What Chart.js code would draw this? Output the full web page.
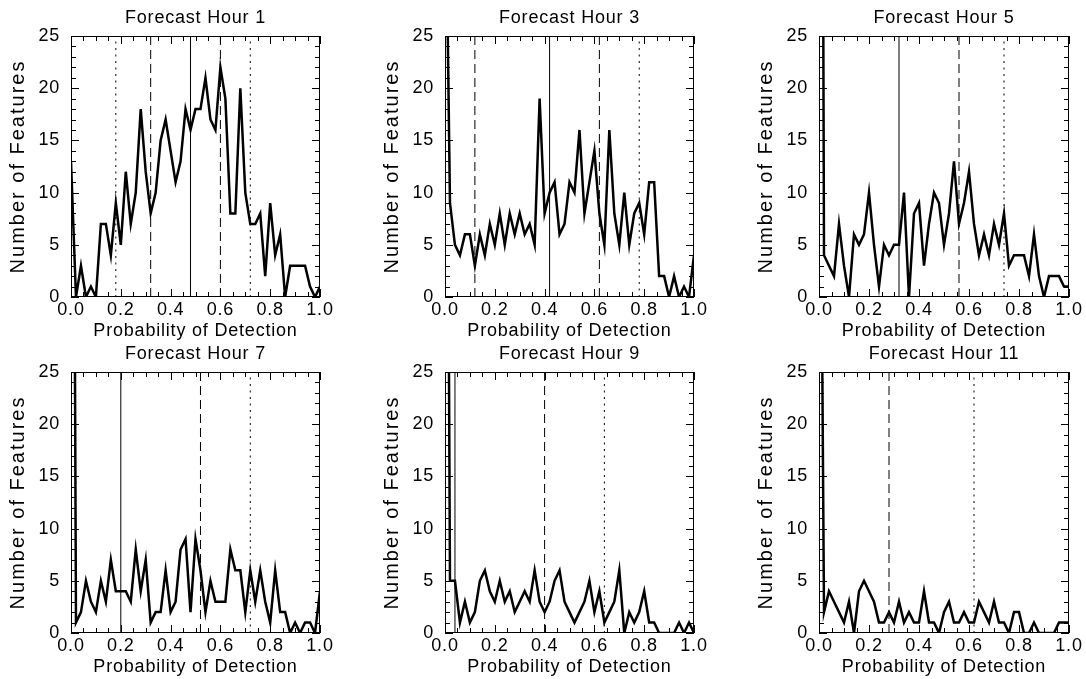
<!DOCTYPE html>
<html>
<head>
<meta charset="utf-8">
<script src="https://cdn.jsdelivr.net/npm/chart.js@4"></script>
<style>
  body { margin: 0; background: #fff; width: 1086px; height: 679px; overflow: hidden; position: relative; }
  canvas { position: absolute; }
</style>
</head>
<body>
<canvas id="c1"></canvas>
<canvas id="c2"></canvas>
<canvas id="c3"></canvas>
<canvas id="c4"></canvas>
<canvas id="c5"></canvas>
<canvas id="c6"></canvas>
<script>
// bin centres (probability of detection)
const bins = [0.00, 0.02, 0.04, 0.06, 0.08, 0.10, 0.12, 0.14, 0.16, 0.18,
              0.20, 0.22, 0.24, 0.26, 0.28, 0.30, 0.32, 0.34, 0.36, 0.38,
              0.40, 0.42, 0.44, 0.46, 0.48, 0.50, 0.52, 0.54, 0.56, 0.58,
              0.60, 0.62, 0.64, 0.66, 0.68, 0.70, 0.72, 0.74, 0.76, 0.78,
              0.80, 0.82, 0.84, 0.86, 0.88, 0.90, 0.92, 0.94, 0.96, 0.98, 1.00];

// number of features per bin, one array per forecast hour
const fh1  = [13, 0, 3, 0, 1, 0, 7, 7, 4, 9, 5, 12, 7, 10, 18, 12, 8, 10, 15, 17, 14, 11, 13, 18, 16, 18,
              18, 21, 17, 16, 22, 19, 8, 8, 20, 10, 7, 7, 8, 2, 9, 4, 6, 0, 3, 3, 3, 3, 1, 0, 1];
const fh3  = [45, 9, 5, 4, 6, 6, 3, 6, 4, 7, 5, 8, 5, 8, 6, 8, 6, 7, 5, 19, 8, 10, 11, 6, 7, 11,
              10, 16, 8, 11, 14, 8, 5, 16, 8, 5, 10, 5, 8, 9, 6, 11, 11, 2, 2, 0, 2, 0, 1, 0, 4];
const fh5  = [160, 4, 3, 2, 7, 3, 0, 6, 5, 6, 10, 5, 1, 5, 4, 5, 5, 10, 0, 8, 9, 3, 7, 10, 9, 5,
              8, 13, 7, 9, 12, 7, 4, 6, 4, 7, 5, 8, 3, 4, 4, 4, 2, 6, 2, 0, 2, 2, 2, 1, 1];
const fh7  = [121, 1, 2, 5, 3, 2, 5, 3, 7, 4, 4, 4, 3, 8, 4, 7, 1, 2, 2, 6, 2, 3, 8, 9, 2, 9,
              6, 2, 5, 3, 3, 3, 8, 6, 6, 2, 6, 3, 6, 3, 1, 6, 2, 2, 0, 1, 0, 1, 1, 0, 4];
const fh9  = [105, 5, 5, 1, 3, 1, 2, 5, 6, 4, 3, 5, 3, 4, 2, 3, 4, 3, 6, 3, 2, 3, 5, 6, 3, 2,
              1, 2, 3, 5, 2, 4, 1, 2, 3, 6, 0, 2, 1, 2, 4, 1, 1, 0, 0, 0, 0, 1, 0, 1, 0];
const fh11 = [71, 2, 4, 3, 2, 1, 3, 0, 4, 5, 4, 3, 1, 1, 2, 1, 3, 1, 2, 1, 1, 4, 1, 1, 0, 2,
              3, 1, 1, 2, 1, 1, 3, 2, 1, 3, 1, 1, 0, 2, 2, 0, 0, 1, 0, 0, 0, 0, 1, 1, 1];

const titles = ['Forecast Hour 1', 'Forecast Hour 3', 'Forecast Hour 5',
                'Forecast Hour 7', 'Forecast Hour 9', 'Forecast Hour 11'];
const series = [fh1, fh3, fh5, fh7, fh9, fh11];

// percentile markers (vertical lines)
const p10 = [0.18, 0.00, 0.00, 0.00, 0.00, 0.00];
const p25 = [0.32, 0.12, 0.00, 0.00, 0.00, 0.00];
const p50 = [0.48, 0.42, 0.32, 0.20, 0.04, 0.00];
const p75 = [0.60, 0.62, 0.56, 0.52, 0.40, 0.28];
const p90 = [0.72, 0.78, 0.74, 0.72, 0.64, 0.62];

const yTicks = [0, 5, 10, 15, 20, 25];
const xTicks = [0, 0.2, 0.4, 0.6, 0.8, 1.0];

const FONT = "'Liberation Sans', Arial, Helvetica, sans-serif";

// canvas placement: [left, top, width]
const slots = [[0, 0, 336], [374, 0, 336], [748, 0, 337],
               [0, 336, 336], [374, 336, 336], [748, 336, 337]];

const spacing = {
  id: 'spacing',
  beforeLayout(chart) { chart.ctx.letterSpacing = '0.8px'; },
  beforeDraw(chart) { chart.ctx.letterSpacing = '0.8px'; }
};

// box round the plot with inward ticks on all four sides
const frame = {
  id: 'frame',
  afterDraw(chart) {
    const { ctx, chartArea: a, scales: { x, y } } = chart;
    ctx.save();
    ctx.strokeStyle = '#000';
    ctx.lineWidth = 1;
    ctx.beginPath();
    for (let i = 0; i <= 20; i++) {
      const px = Math.round(x.getPixelForValue(i * 0.05)) + 0.5;
      const len = i % 4 === 0 ? 8 : 5;
      ctx.moveTo(px, a.bottom); ctx.lineTo(px, a.bottom - len);
      ctx.moveTo(px, a.top); ctx.lineTo(px, a.top + len);
    }
    for (let v = 0; v <= 25; v++) {
      const py = Math.round(y.getPixelForValue(v)) + 0.5;
      const len = v % 5 === 0 ? 8 : 5;
      ctx.moveTo(a.left, py); ctx.lineTo(a.left + len, py);
      ctx.moveTo(a.right, py); ctx.lineTo(a.right - len, py);
    }
    ctx.stroke();
    ctx.strokeRect(a.left + 0.5, a.top + 0.5, a.right - a.left - 1, a.bottom - a.top - 1);
    ctx.restore();
  }
};

function refLine(v, dash) {
  return {
    data: [{ x: v, y: 0 }, { x: v, y: 25 }],
    borderColor: '#000',
    borderWidth: 1,
    borderDash: dash,
    pointRadius: 0
  };
}

// the y title is set wider than the other text
function spreadTitle(s) {
  if (s._spread) return;
  const base = s.drawTitle;
  s.drawTitle = function () {
    const c = this.ctx;
    const old = c.letterSpacing;
    c.letterSpacing = '2px';
    base.call(this);
    c.letterSpacing = old;
  };
  s._spread = true;
}

series.forEach((counts, i) => {
  const [left, top, width] = slots[i];
  const cv = document.getElementById('c' + (i + 1));
  cv.width = width;
  cv.height = 342;
  cv.style.left = left + 'px';
  cv.style.top = top + 'px';

  new Chart(cv, {
    type: 'line',
    data: {
      datasets: [
        {
          data: bins.map((b, k) => ({ x: b, y: counts[k] })),
          borderColor: '#000',
          borderWidth: 2.5,
          pointRadius: 0,
          tension: 0
        },
        refLine(p50[i], []),
        refLine(p25[i], [9, 5]),
        refLine(p75[i], [9, 5]),
        refLine(p10[i], [2, 4.5]),
        refLine(p90[i], [2, 4.5])
      ]
    },
    options: {
      responsive: false,
      animation: false,
      devicePixelRatio: 1,
      layout: { padding: { left: 0, right: 16, top: 0, bottom: 0 } },
      plugins: {
        legend: { display: false },
        tooltip: { enabled: false },
        title: {
          display: true,
          fullSize: false,
          text: titles[i],
          color: '#000',
          font: { family: FONT, size: 18, weight: 'normal' },
          padding: { top: 7.5, bottom: 6.9 }
        }
      },
      scales: {
        x: {
          type: 'linear',
          min: 0,
          max: 1,
          grid: { display: false, drawTicks: false },
          border: { display: false },
          afterBuildTicks: s => { s.ticks = xTicks.map(v => ({ value: v })); },
          ticks: {
            autoSkip: false,
            maxRotation: 0,
            padding: 2,
            color: '#000',
            font: { family: FONT, size: 18 },
            callback: v => v.toFixed(1)
          },
          title: {
            display: true,
            text: 'Probability of Detection',
            color: '#000',
            font: { family: FONT, size: 18 },
            padding: { top: 0, bottom: 0 }
          },
          afterFit: s => { s.height = 45; s.paddingLeft = 0; s.paddingRight = 0; }
        },
        y: {
          min: 0,
          max: 25,
          grid: { display: false, drawTicks: false },
          border: { display: false },
          afterBuildTicks: s => { s.ticks = yTicks.map(v => ({ value: v })); },
          ticks: {
            padding: 11,
            color: '#000',
            font: { family: FONT, size: 18 }
          },
          title: {
            display: true,
            text: 'Number of Features',
            color: '#000',
            font: { family: FONT, size: 20 },
            padding: { top: 6.3, bottom: 0 }
          },
          afterFit: s => { s.width = 71; s.paddingTop = 0; s.paddingBottom = 0; },
          afterUpdate: spreadTitle
        }
      }
    },
    plugins: [spacing, frame]
  });
});
</script>
</body>
</html>
